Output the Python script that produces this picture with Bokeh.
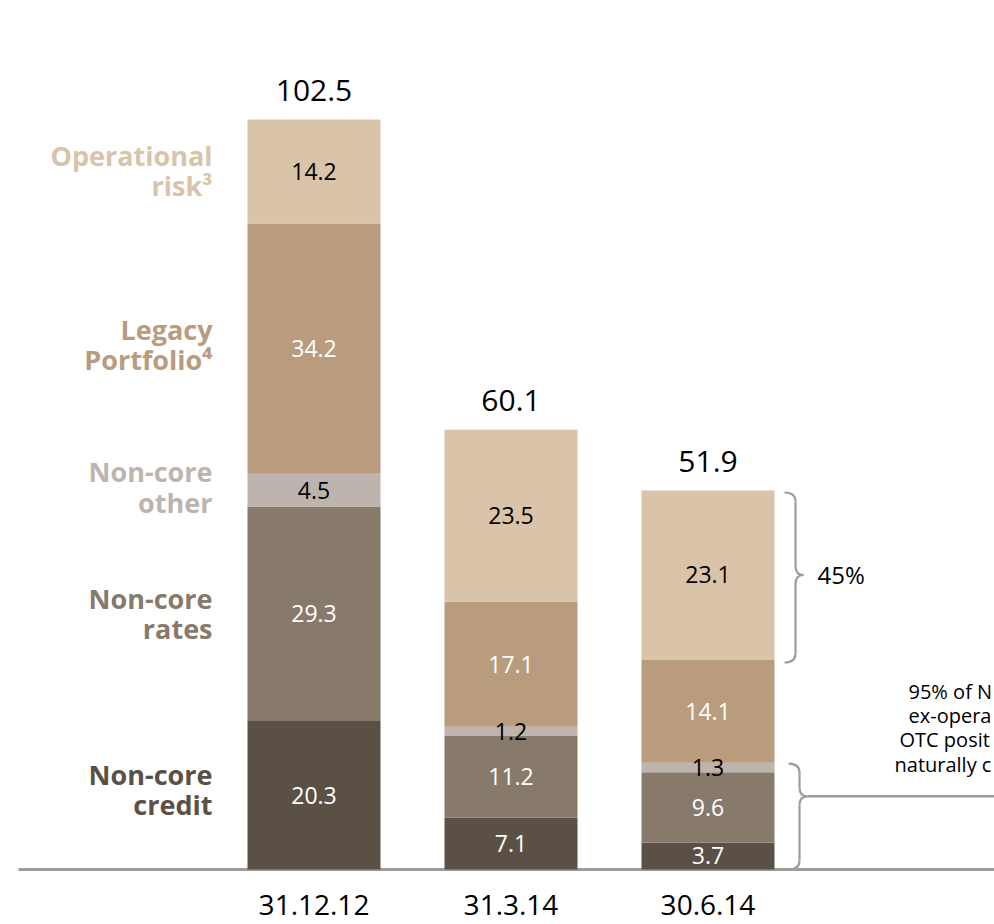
import numpy as np
from bokeh.plotting import figure
from bokeh.models import Range1d
from bokeh.core.properties import value
from bokeh.embed import file_html
from bokeh.resources import INLINE

# ---------------- data ----------------
categories = ["31.12.12", "31.3.14", "30.6.14"]
non_core_credit = [20.3, 7.1, 3.7]
non_core_rates = [29.3, 11.2, 9.6]
non_core_other = [4.5, 1.2, 1.3]
legacy_portfolio = [34.2, 17.1, 14.1]
operational_risk = [14.2, 23.5, 23.1]
totals = [102.5, 60.1, 51.9]
series_labels = ["Non-core\ncredit", "Non-core\nrates", "Non-core\nother",
                 "Legacy\nPortfolio⁴", "Operational\nrisk³"]
brace_label = "45%"
# note is cut off by the right edge in the original; only the visible part is kept
note_lines = ["95% of N", "ex-opera", "OTC posit", "naturally c"]
otc_brace_tip = 10.0

# ---------------- styles ----------------
colors = ["#5A5046", "#877A6B", "#BDB4AD", "#B99B7E", "#D9C4A9"]
value_colors = ["white", "white", "black", "white", "black"]
label_offsets = [-6, 0, -3, -4, -1]
FONT = value("Open Sans")
GRAY = "#9D9D9D"

W, H = 994, 924
PX_X = 197.0                 # pixels per category step
PX_Y = 750.0 / 102.5         # pixels per RWA unit
BASE = 869.0
x_start = -313.5 / PX_X
x_end = x_start + W / PX_X
y_end = BASE / PX_Y
y_start = -(H - BASE) / PX_Y


def dx(px):
    return px / PX_X


def dy(px):
    return px / PX_Y


p = figure(width=W, height=H, x_range=Range1d(x_start, x_end), y_range=Range1d(y_start, y_end),
           output_backend="svg", toolbar_location=None, min_border=0,
           x_axis_location=None, y_axis_location=None)
p.grid.visible = False
p.outline_line_color = None
p.background_fill_color = "white"
p.border_fill_color = "white"

series = [non_core_credit, non_core_rates, non_core_other, legacy_portfolio, operational_risk]
idx = np.arange(len(categories), dtype=float)
bw = dx(133)
stack = np.vstack([np.array(s, dtype=float) for s in series])
tops = np.cumsum(stack, axis=0)
bottoms = tops - stack

# baseline
p.segment(x0=[idx[0] - bw / 2 - dx(229)], y0=[0], x1=[x_end], y1=[0], line_color=GRAY, line_width=3)

for i in range(len(series)):
    p.vbar(x=idx, bottom=bottoms[i], top=tops[i], width=bw, fill_color=colors[i], line_color=None)

for i in range(len(series)):
    mids = (bottoms[i] + tops[i]) / 2
    p.text(x=idx, y=mids, text=[f"{v:.1f}" for v in stack[i]], text_align="center",
           text_baseline="middle", text_font=FONT, text_font_size="23px", text_color=value_colors[i])

# series labels, left of first bar
for i in range(len(series)):
    mid = (bottoms[i][0] + tops[i][0]) / 2
    p.text(x=[idx[0] - bw / 2 - dx(35)], y=[mid], y_offset=label_offsets[i], text=[series_labels[i]],
           text_align="right", text_baseline="middle", text_font=FONT, text_font_size="27px",
           text_font_style="bold", text_color=colors[i], text_line_height=0.82)

# totals
p.text(x=idx, y=tops[-1], y_offset=-29, text=[f"{t:.1f}" for t in totals], text_align="center",
       text_baseline="middle", text_font=FONT, text_font_size="30px", text_color="black")

# category labels
p.text(x=idx, y=[-dy(35)] * len(idx), text=categories, text_align="center",
       text_baseline="middle", text_font=FONT, text_font_size="28px", text_color="black")


def brace(xl, ytop, ybot, ytip):
    xm = xl + dx(11)
    xt = xl + dx(19)
    r = dy(9)
    p.quadratic(x0=[xl, xm, xt, xm], y0=[ytop, ytip + r, ytip, ybot + r],
                x1=[xm, xt, xm, xl], y1=[ytop - r, ytip, ytip - r, ybot],
                cx=[xm, xm, xm, xm], cy=[ytop, ytip, ytip, ybot],
                line_color=GRAY, line_width=2.2)
    p.segment(x0=[xm, xm], y0=[ytop - r, ytip - r], x1=[xm, xm], y1=[ytip + r, ybot + r],
              line_color=GRAY, line_width=2.2)
    return xt


last = len(categories) - 1
bx = idx[last] + bw / 2 + dx(10)
xt1 = brace(bx, tops[-1][last] - dy(2), bottoms[-1][last] - dy(3),
            (bottoms[-1][last] + tops[-1][last]) / 2)
p.text(x=[xt1 + dx(14)], y=[(bottoms[-1][last] + tops[-1][last]) / 2], text=[brace_label],
       text_align="left", text_baseline="middle", text_font=FONT, text_font_size="24px",
       text_color="black")

xt2 = brace(bx + dx(4), tops[2][last] - dy(1), 0.0, otc_brace_tip)
p.segment(x0=[xt2], y0=[otc_brace_tip], x1=[x_end], y1=[otc_brace_tip], line_color=GRAY, line_width=2.5)

note_x = [idx[last] + bw / 2 + dx(o) for o in (134, 134, 125, 120)]
note_y = [otc_brace_tip + dy(o) for o in (105, 81, 57, 32)]
p.text(x=note_x, y=note_y, text=note_lines, text_align="left", text_baseline="middle",
       text_font=FONT, text_font_size="20px", text_color="black")

open("out.html", "w").write(file_html(p, INLINE))
